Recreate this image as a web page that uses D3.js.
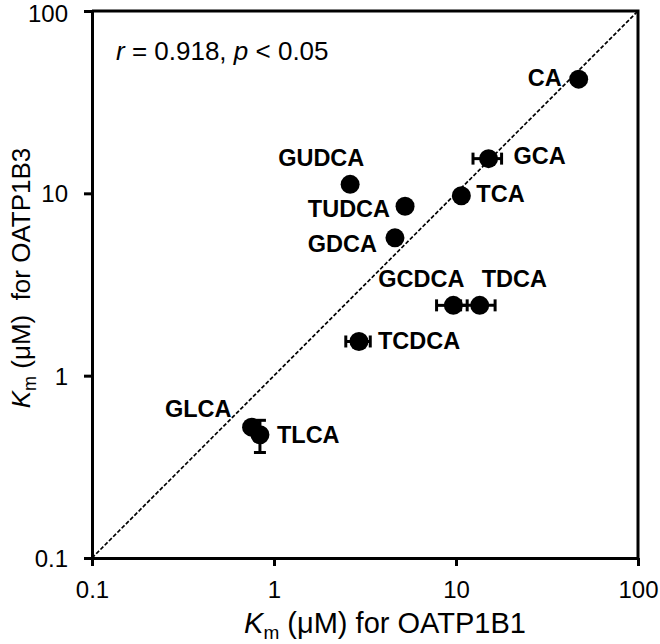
<!DOCTYPE html>
<html>
<head>
<meta charset="utf-8">
<script src="https://cdn.jsdelivr.net/npm/d3@7"></script>
<style>
  html, body { margin: 0; padding: 0; background: #fff; }
  svg { display: block; font-family: "Liberation Sans", Arial, Helvetica, sans-serif; }
  text { white-space: pre; }
</style>
</head>
<body>
<svg id="chart" width="660" height="644"></svg>
<script>
// ---- data ----
const compounds = ["CA", "GCA", "TCA", "GUDCA", "TUDCA", "GDCA", "GCDCA", "TDCA", "TCDCA", "GLCA", "TLCA"];
const kmOATP1B1 = [47.2, 15.1, 10.7, 2.62, 5.25, 4.62, 9.67, 13.5, 2.93, 0.753, 0.837];
const kmOATP1B3 = [42.3, 15.5, 9.7, 11.2, 8.5, 5.7, 2.43, 2.43, 1.54, 0.522, 0.474];
const sdOATP1B1 = [0, 2.7, 0.6, 0, 0, 0, 1.85, 2.9, 0.45, 0, 0];
const sdOATP1B3 = [0, 0, 0, 0, 0, 0.4, 0, 0, 0, 0, 0.095];
const tickValues = [0.1, 1, 10, 100];
const tickLabels = ["0.1", "1", "10", "100"];
const statsText = { r: "0.918", p: "0.05" };

// label placement (layout only): [anchor, dx, dy]
const labelPlacement = [
  ["end", -17, 7], ["start", 25, 5], ["start", 15, 6], ["start", -72, -18],
  ["end", -15, 11], ["end", -18, 14], ["start", -75, -18], ["start", 2, -18],
  ["start", 19, 8], ["end", -20, -10], ["start", 17, 8]
];

const svg = d3.select("#chart");
const x = d3.scaleLog().domain([0.1, 100]).range([92, 638]);
const y = d3.scaleLog().domain([0.1, 100]).range([558, 11]);
const fmt = d => tickLabels[tickValues.indexOf(d)];

// identity line
svg.append("line")
  .attr("x1", x(0.1)).attr("y1", y(0.1))
  .attr("x2", x(100)).attr("y2", y(100))
  .attr("stroke", "#000").attr("stroke-width", 1.7)
  .attr("stroke-dasharray", "4,2");

// frame (top & right)
svg.append("path")
  .attr("d", `M${x(0.1)},${y(100)}H${x(100)}V${y(0.1)}`)
  .attr("fill", "none").attr("stroke", "#000").attr("stroke-width", 3);

// axes
const xAxis = svg.append("g").attr("transform", `translate(0,${y(0.1)})`)
  .call(d3.axisBottom(x).tickValues(tickValues).tickFormat(fmt).tickSize(8).tickSizeOuter(0).tickPadding(15));
const yAxis = svg.append("g").attr("transform", `translate(${x(0.1)},0)`)
  .call(d3.axisLeft(y).tickValues(tickValues).tickFormat(fmt).tickSize(8).tickSizeOuter(0).tickPadding(16));
[xAxis, yAxis].forEach(g => {
  g.select(".domain").attr("stroke-width", 3);
  g.selectAll(".tick line").attr("stroke-width", 3);
  g.selectAll(".tick text").attr("font-size", 24).attr("font-family", "Liberation Sans, Arial, sans-serif").attr("fill", "#000");
});
yAxis.selectAll(".tick text").attr("dy", d => d === 100 ? "0.42em" : "0.35em");

const data = compounds.map((name, i) => ({
  name, x: kmOATP1B1[i], y: kmOATP1B3[i], sx: sdOATP1B1[i], sy: sdOATP1B3[i], pl: labelPlacement[i]
}));

// error bars
const cap = 6;
const eb = svg.append("g").attr("stroke", "#000").attr("stroke-width", 3);
data.forEach(d => {
  if (d.sx > 0) {
    const x0 = x(d.x - d.sx), x1 = x(d.x + d.sx), yy = y(d.y);
    eb.append("line").attr("x1", x0).attr("x2", x1).attr("y1", yy).attr("y2", yy);
    eb.append("line").attr("x1", x0).attr("x2", x0).attr("y1", yy - cap).attr("y2", yy + cap);
    eb.append("line").attr("x1", x1).attr("x2", x1).attr("y1", yy - cap).attr("y2", yy + cap);
  }
  if (d.sy > 0) {
    const y0 = y(d.y - d.sy), y1 = y(d.y + d.sy), xx = x(d.x);
    eb.append("line").attr("x1", xx).attr("x2", xx).attr("y1", y0).attr("y2", y1);
    eb.append("line").attr("x1", xx - cap).attr("x2", xx + cap).attr("y1", y0).attr("y2", y0);
    eb.append("line").attr("x1", xx - cap).attr("x2", xx + cap).attr("y1", y1).attr("y2", y1);
  }
});

// points
svg.append("g").selectAll("circle").data(data).join("circle")
  .attr("cx", d => x(d.x)).attr("cy", d => y(d.y)).attr("r", 9.5).attr("fill", "#000");

// labels
svg.append("g").selectAll("text").data(data).join("text")
  .attr("x", d => x(d.x) + d.pl[1]).attr("y", d => y(d.y) + d.pl[2])
  .attr("text-anchor", d => d.pl[0])
  .attr("font-size", 23.5).attr("font-weight", "bold")
  .text(d => d.name);

// stats annotation
const st = svg.append("text").attr("x", 116).attr("y", 60).attr("font-size", 26);
st.append("tspan").attr("font-style", "italic").text("r");
st.append("tspan").text(` = ${statsText.r}, `);
st.append("tspan").attr("font-style", "italic").text("p");
st.append("tspan").text(` < ${statsText.p}`);

// x title
const xt = svg.append("text").attr("x", 385).attr("y", 633).attr("text-anchor", "middle").attr("font-size", 29);
xt.append("tspan").attr("font-style", "italic").text("K");
xt.append("tspan").attr("font-size", 19).attr("dy", 6).text("m");
xt.append("tspan").attr("dy", -6).text(" (μM) for OATP1B1");

// y title
const yt = svg.append("text").attr("transform", "translate(30,278) rotate(-90)")
  .attr("text-anchor", "middle").attr("font-size", 26);
yt.append("tspan").attr("font-style", "italic").text("K");
yt.append("tspan").attr("font-size", 18).attr("dy", 6).text("m");
yt.append("tspan").attr("dy", -6).text(" (μM)  for OATP1B3");
</script>
</body>
</html>
